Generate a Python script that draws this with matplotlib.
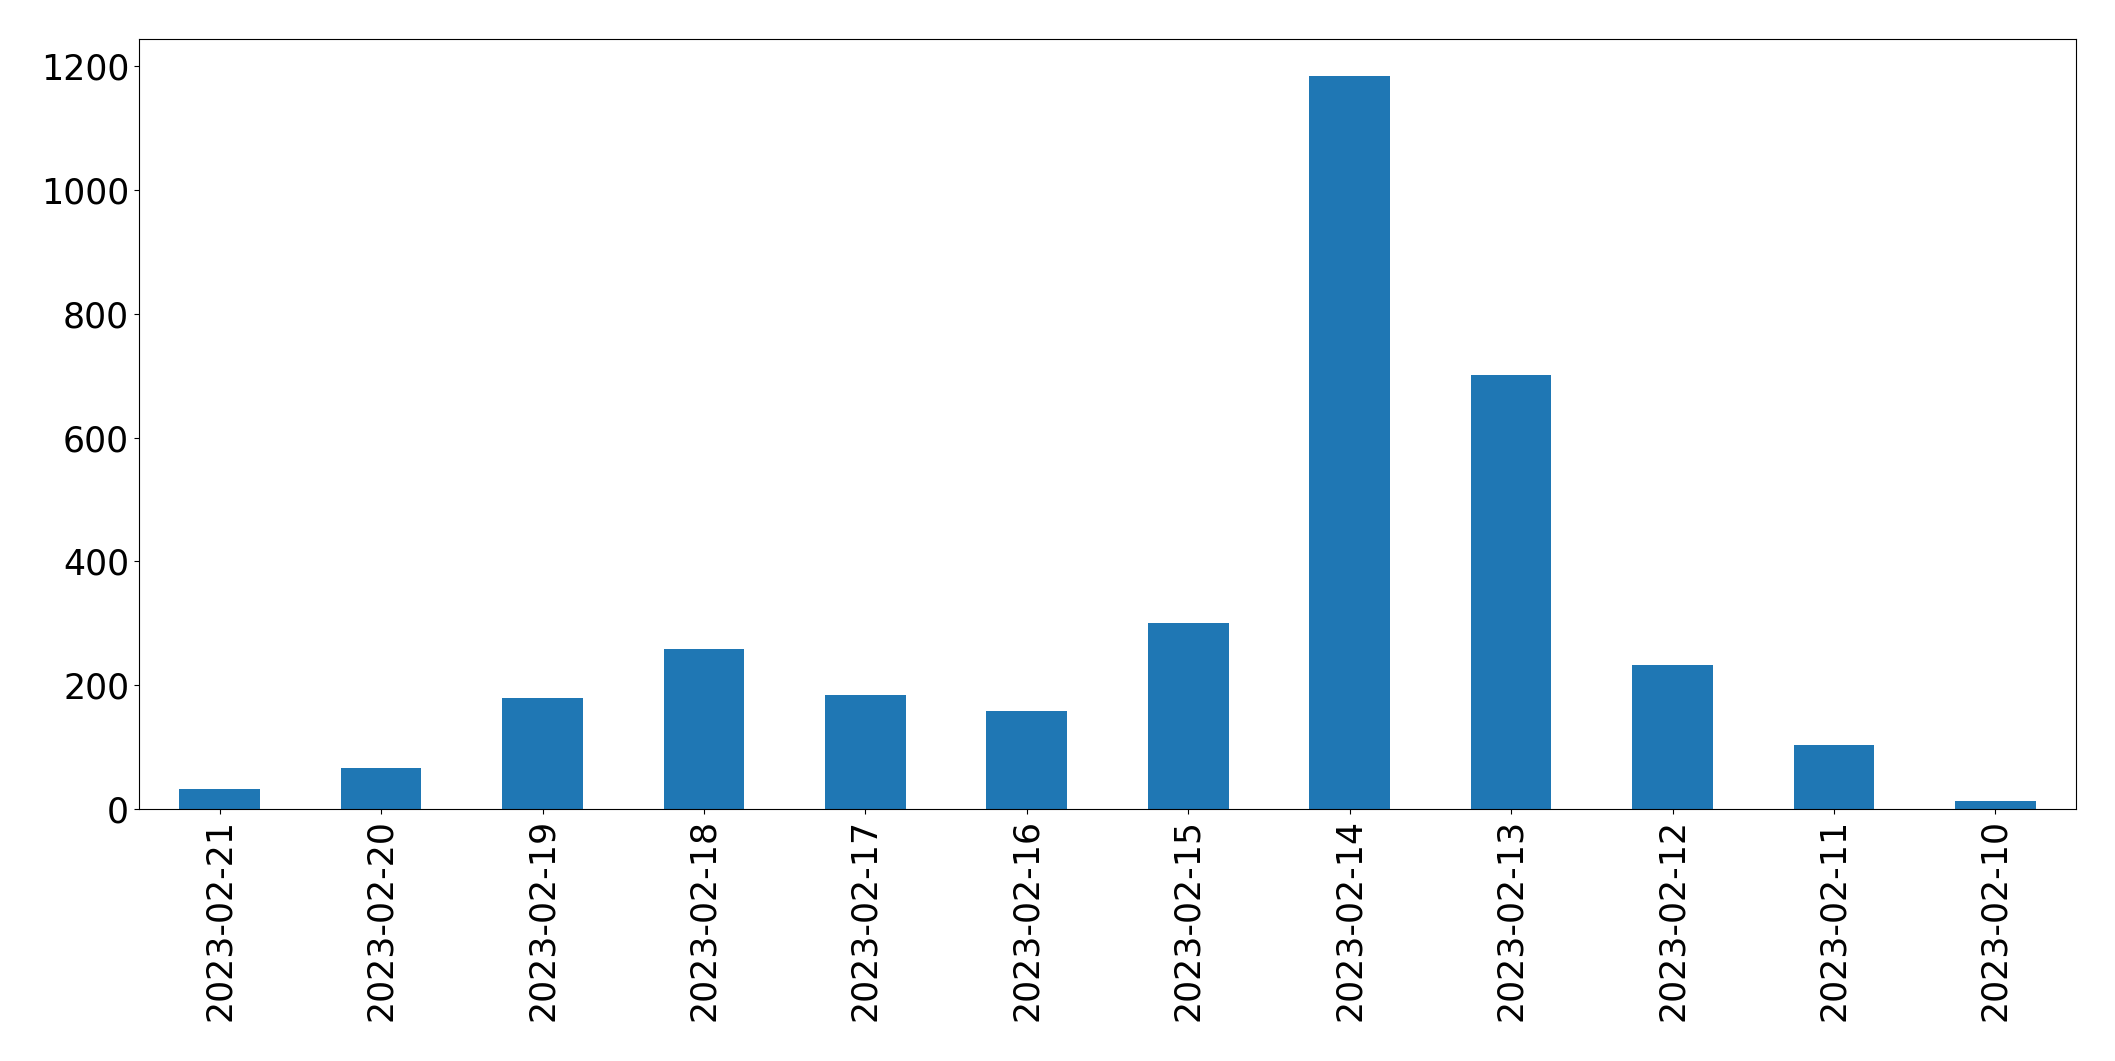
import matplotlib
matplotlib.use("Agg")
import matplotlib.pyplot as plt

# daily counts, newest first (as in the original)
dates = ['2023-02-21', '2023-02-20', '2023-02-19', '2023-02-18', '2023-02-17', '2023-02-16',
         '2023-02-15', '2023-02-14', '2023-02-13', '2023-02-12', '2023-02-11', '2023-02-10']
counts = [33, 66, 179, 258, 184, 158, 300, 1185, 702, 233, 104, 13]

fig, ax = plt.subplots(figsize=(21.15, 10.61), dpi=100)
fig.subplots_adjust(left=0.0657, right=0.9816, top=0.9632, bottom=0.2375)

x = range(len(dates))
ax.bar(x, counts, width=0.5, color='#1f77b4')
ax.set_xlim(-0.5, len(dates) - 0.5)
ax.set_xticks(list(x))
ax.set_xticklabels(dates, rotation=90)
ax.tick_params(axis='both', labelsize=25)

plt.savefig("out.png", dpi=100)
plt.close(fig)
